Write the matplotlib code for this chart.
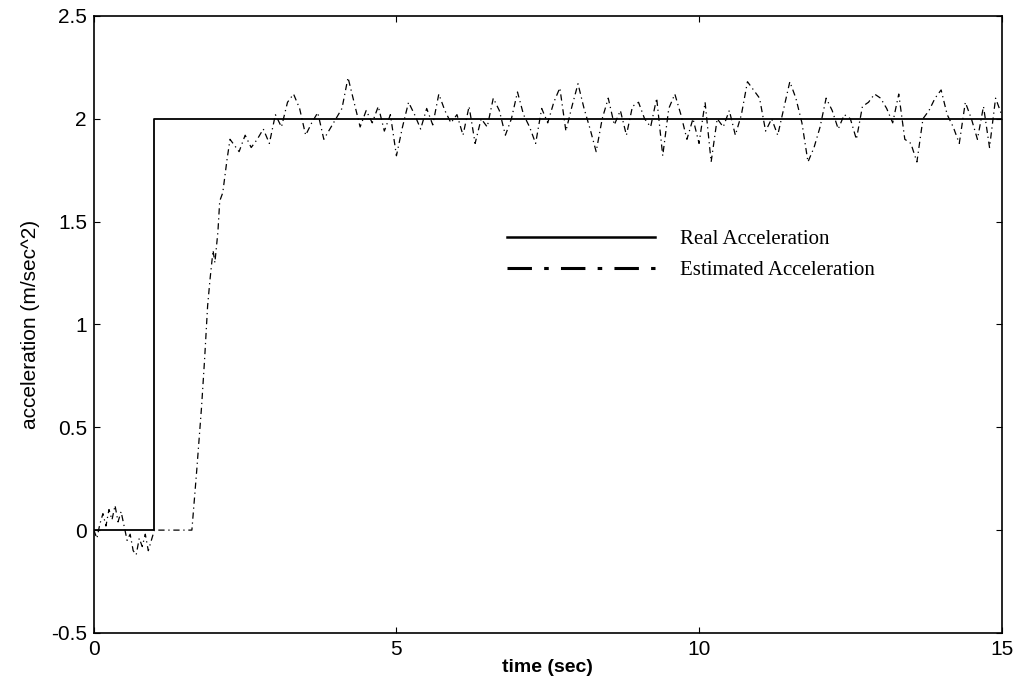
import numpy as np
import matplotlib
matplotlib.use('Agg')
from matplotlib import pyplot as plt
from matplotlib.lines import Line2D

# real acceleration: step from 0 to 2 at t = 1 s
real_t = [0, 1.0, 1.0, 15]
real_a = [0, 0, 2, 2]

# estimated acceleration
est_t_start = [0.0, 0.05, 0.1, 0.15, 0.2, 0.25, 0.3, 0.35, 0.4, 0.45, 0.5,
               0.55, 0.6, 0.65, 0.7, 0.75, 0.8, 0.85, 0.9, 0.95, 1.0,
               1.1, 1.2, 1.3, 1.4, 1.5, 1.62, 1.7, 1.78, 1.83, 1.88,
               1.92, 1.97, 2.0, 2.05, 2.08, 2.13, 2.2, 2.25]
est_a_start = [0.0, -0.04, 0.03, 0.08, 0.02, 0.1, 0.05, 0.12, 0.04, 0.09, 0.02,
               -0.05, -0.02, -0.1, -0.12, -0.04, -0.08, -0.02, -0.1, -0.05, 0.0,
               0.0, 0.0, 0.0, 0.0, 0.0, 0.0, 0.29, 0.6, 0.83, 1.09,
               1.22, 1.36, 1.3, 1.45, 1.6, 1.64, 1.8, 1.9]

# from t = 2.3 s to 15 s, every 0.1 s
est_a_tail = [1.88, 1.84, 1.92, 1.86, 1.90, 1.95, 1.88,
              2.02, 1.96, 2.08, 2.12, 2.05, 1.92, 1.98, 2.03, 1.90, 1.95,
              2.00, 2.05, 2.20, 2.08, 1.96, 2.04, 1.98, 2.06, 1.94, 2.02,
              1.82, 1.96, 2.08, 2.02, 1.95, 2.05, 1.97, 2.12, 2.04, 1.98,
              2.02, 1.92, 2.06, 1.88, 2.00, 1.96, 2.10, 2.04, 1.92, 2.00,
              2.13, 2.02, 1.96, 1.88, 2.05, 1.98, 2.08, 2.15, 1.94, 2.06,
              2.17, 2.05, 1.95, 1.84, 2.00, 2.10, 1.97, 2.04, 1.92, 2.06,
              2.08, 2.00, 1.96, 2.10, 1.82, 2.05, 2.12, 2.02, 1.90, 2.00,
              1.88, 2.08, 1.79, 2.00, 1.96, 2.04, 1.92, 2.02, 2.18, 2.14,
              2.10, 1.94, 2.00, 1.92, 2.05, 2.18, 2.10, 1.98, 1.79, 1.86,
              1.96, 2.10, 2.04, 1.95, 2.02, 2.00, 1.90, 2.06, 2.08, 2.12,
              2.10, 2.05, 1.98, 2.12, 1.90, 1.88, 1.79, 2.00, 2.04, 2.10,
              2.14, 2.02, 1.96, 1.88, 2.08, 2.00, 1.90, 2.06, 1.86, 2.10, 2.02]

est_t = est_t_start + [round(2.3 + 0.1 * i, 2) for i in range(len(est_a_tail))]
est_a = est_a_start + est_a_tail

xticks = [0, 5, 10, 15]
yticks = [-0.5, 0, 0.5, 1, 1.5, 2, 2.5]
ytick_labels = ['-0.5', '0', '0.5', '1', '1.5', '2', '2.5']

plt.rcParams['font.family'] = ['Liberation Sans', 'DejaVu Sans']

fig = plt.figure(figsize=(10.2, 6.91), dpi=100)
ax = fig.add_axes([0.092, 0.084, 0.890, 0.893])

ax.plot(real_t, real_a, color='black', linewidth=1.3)
ax.plot(est_t, est_a, color='black', linewidth=0.9, linestyle=(0, (5, 3, 1, 3)))

ax.set_xlim(0, 15)
ax.set_ylim(-0.5, 2.5)
ax.set_xticks(xticks)
ax.set_yticks(yticks)
ax.set_yticklabels(ytick_labels)
ax.tick_params(direction='in', length=4, labelsize=15, top=True, right=True)
ax.tick_params(axis='y', pad=5)
ax.tick_params(axis='x', pad=5)
for s in ax.spines.values():
    s.set_linewidth(1.2)

ax.set_xlabel('time (sec)', fontsize=14, fontweight='bold', labelpad=0)
ax.set_ylabel('acceleration (m/sec^2)', fontsize=15, labelpad=8)

# legend with its own handles
h_real = Line2D([], [], color='black', linewidth=1.8)
h_est = Line2D([], [], color='black', linewidth=2.2, linestyle=(0, (8, 4, 1.5, 4)))
leg = ax.legend([h_real, h_est], ['Real Acceleration', 'Estimated Acceleration'],
                loc='upper left', bbox_to_anchor=(0.455, 0.654), frameon=False,
                handlelength=7.1, handletextpad=1.2, labelspacing=0.55,
                borderpad=0, borderaxespad=0,
                prop={'family': 'Liberation Serif', 'size': 15})

fig.savefig('out.png', dpi=100)
